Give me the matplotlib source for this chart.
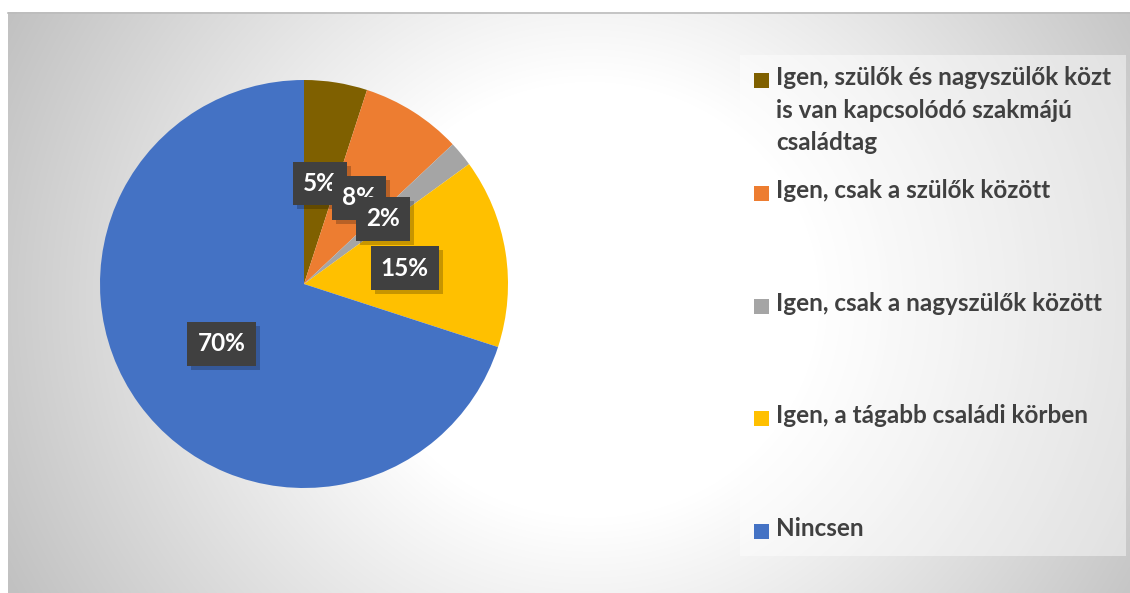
import numpy as np
import matplotlib.pyplot as plt
from matplotlib.patches import Rectangle
import matplotlib.transforms as mtransforms

categories = [
    'Igen, szülők és nagyszülők közt\nis van kapcsolódó szakmájú\ncsaládtag',
    'Igen, csak a szülők között',
    'Igen, csak a nagyszülők között',
    'Igen, a tágabb családi körben',
    'Nincsen',
]
shares = [5, 8, 2, 15, 70]
colors = ['#7f6000', '#ed7d31', '#a5a5a5', '#ffc000', '#4472c4']

W, H = 1130, 593
FONT = ['Lato', 'DejaVu Sans']
plt.rcParams['font.family'] = FONT
plt.rcParams['hatch.color'] = '#5a5a5a'
plt.rcParams['hatch.linewidth'] = 1.6

fig = plt.figure(figsize=(W / 100, H / 100), dpi=100)


def px(x0, y0, x1, y1):
    # pixel box (top-left origin) -> figure fraction rect
    return [x0 / W, 1 - y1 / H, (x1 - x0) / W, (y1 - y0) / H]


# radial gradient background
bg = fig.add_axes(px(8, 12, W, H), zorder=0)
bg.set_axis_off()
gx, gy = np.meshgrid(np.arange(8, W), np.arange(12, H))
d = np.hypot((gx - 590) / 1.0, (gy - 300) / 0.95)
v = 1 - 0.24 * np.clip((d - 230) / 420, 0, 1)
bg.imshow(np.dstack([v, v, v]), aspect='auto', extent=[0, 1, 0, 1])
fig.add_artist(plt.Line2D([8 / W, 1], [1 - 12.5 / H] * 2, color='#bcbcbc', lw=1.2))

# legend panel
fig.add_artist(Rectangle((740 / W, 1 - 556 / H), 386 / W, 501 / H,
                         transform=fig.transFigure, facecolor='white', alpha=0.45,
                         edgecolor='none', zorder=1))

ax = fig.add_axes(px(100, 80, 508, 488), zorder=2)
wedges, texts, autotexts = ax.pie(
    shares, colors=colors, startangle=90, counterclock=False,
    autopct='%1.0f%%', pctdistance=0.5, radius=1,
    wedgeprops=dict(linewidth=0),
)
ax.set_aspect('equal')
ax.set_xlim(-1, 1)
ax.set_ylim(-1, 1)

shadow_off = mtransforms.offset_copy(ax.transData, fig=fig, x=4, y=-4, units='dots')
for t in autotexts:
    t.set_color('white')
    t.set_fontsize(17.5)
    t.set_fontweight('bold')
    t.set_bbox(dict(boxstyle='square,pad=0.42', facecolor='#404040',
                    edgecolor='#404040', linewidth=0, hatch='.'))
    t.set_zorder(5)
    x, y = t.get_position()
    ax.text(x, y, t.get_text(), transform=shadow_off, ha='center', va='center',
            fontsize=17.5, fontweight='bold', color='none', zorder=4,
            bbox=dict(boxstyle='square,pad=0.42', facecolor='black', alpha=0.22,
                      edgecolor='none'))

# legend entries
entry_y = [80, 193, 306, 418, 531]
for lab, col, y in zip(categories, colors, entry_y):
    fig.add_artist(Rectangle((754 / W, 1 - (y + 8) / H), 15 / W, 15 / H,
                             transform=fig.transFigure, facecolor=col,
                             edgecolor='none', zorder=3))
    fig.text(776 / W, 1 - (y - 14) / H, lab, ha='left', va='top', fontsize=17.5,
             fontweight='bold', color='#404040', linespacing=1.5, zorder=3)

fig.savefig('out.png', dpi=100)
